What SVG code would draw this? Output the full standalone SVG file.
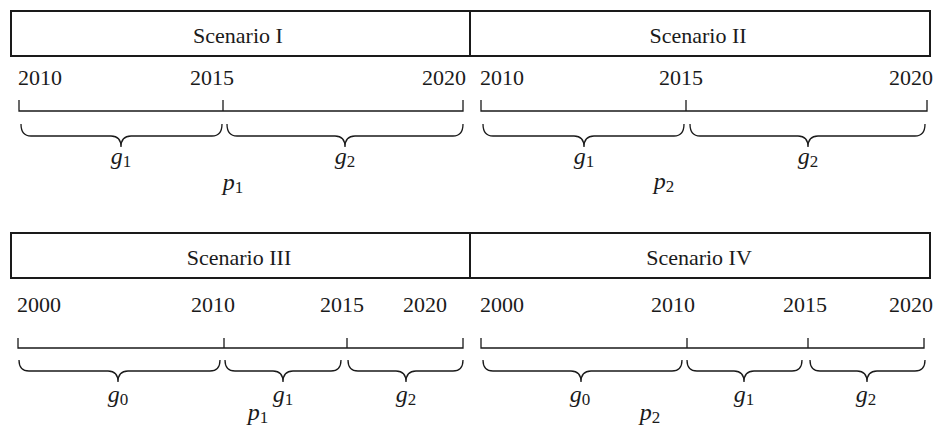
<svg xmlns="http://www.w3.org/2000/svg" width="935" height="430" viewBox="0 0 935 430">
<style>
text{font-family:"Liberation Serif","Times New Roman",serif;fill:#1a1a1a}
.t{font-size:22px;text-anchor:middle}
.y{font-size:22px}
.m{font-size:24px;font-style:italic;text-anchor:middle}
.s{font-size:17px;font-style:normal}
.box{fill:none;stroke:#1a1a1a;stroke-width:2}
.ln{fill:none;stroke:#1a1a1a;stroke-width:1.3}
</style>
<rect width="935" height="430" fill="#fff"/>
<g id="scenario1">
<rect class="box" x="11" y="11" width="459" height="45"/>
<text class="t" x="238" y="43">Scenario I</text>
<text class="y" x="18" y="85">2010</text>
<text class="y" x="190" y="85">2015</text>
<text class="y" x="422" y="85">2020</text>
</g>
<g id="scenario2">
<rect class="box" x="470" y="11" width="460" height="45"/>
<text class="t" x="698" y="43">Scenario II</text>
<text class="y" x="480" y="85">2010</text>
<text class="y" x="659" y="85">2015</text>
<text class="y" x="889" y="85">2020</text>
</g>
<g id="scenario3">
<rect class="box" x="11" y="233" width="459" height="45"/>
<text class="t" x="239" y="265">Scenario III</text>
<text class="y" x="17" y="312">2000</text>
<text class="y" x="191" y="312">2010</text>
<text class="y" x="320" y="312">2015</text>
<text class="y" x="403" y="312">2020</text>
</g>
<g id="scenario4">
<rect class="box" x="470" y="233" width="460" height="45"/>
<text class="t" x="699" y="265">Scenario IV</text>
<text class="y" x="480" y="312">2000</text>
<text class="y" x="651" y="312">2010</text>
<text class="y" x="783" y="312">2015</text>
<text class="y" x="889" y="312">2020</text>
</g>
<g id="connectors">
<path class="ln" d="M19,100V111H463V100M223,111V100"/>
<path class="ln" d="M481,100V111H927V100M686,111V100"/>
<path class="ln" d="M18,338V348H463V338M224,348V338M347,348V338"/>
<path class="ln" d="M481,338V348H924V338M687,348V338M808,348V338"/>
<path class="ln" d="M21,124Q21,136 31,136H111Q121,136 121,147Q121,136 131,136H212Q222,136 222,124"/>
<path class="ln" d="M227,124Q227,136 237,136H335Q345,136 345,147Q345,136 355,136H453Q463,136 463,124"/>
<path class="ln" d="M483,124Q483,136 493,136H574Q584,136 584,147Q584,136 594,136H674Q684,136 684,124"/>
<path class="ln" d="M690,124Q690,136 700,136H798Q808,136 808,147Q808,136 818,136H915Q925,136 925,124"/>
<path class="ln" d="M19,360Q19,371 29,371H108Q118,371 118,382Q118,371 128,371H210Q220,371 220,360"/>
<path class="ln" d="M225,360Q225,371 235,371H273Q283,371 283,382Q283,371 293,371H331Q341,371 341,360"/>
<path class="ln" d="M348,360Q348,371 358,371H396Q406,371 406,382Q406,371 416,371H453Q463,371 463,360"/>
<path class="ln" d="M483,360Q483,371 493,371H571Q581,371 581,382Q581,371 591,371H672Q682,371 682,360"/>
<path class="ln" d="M687,360Q687,371 697,371H734Q744,371 744,382Q744,371 754,371H792Q802,371 802,360"/>
<path class="ln" d="M810,360Q810,371 820,371H857Q867,371 867,382Q867,371 877,371H915Q925,371 925,360"/>
</g>
<g id="labels">
<text class="m" x="121" y="164">g<tspan class="s" dy="3">1</tspan></text>
<text class="m" x="345" y="164">g<tspan class="s" dy="3">2</tspan></text>
<text class="m" x="233" y="190">p<tspan class="s" dy="3">1</tspan></text>
<text class="m" x="584" y="164">g<tspan class="s" dy="3">1</tspan></text>
<text class="m" x="808" y="164">g<tspan class="s" dy="3">2</tspan></text>
<text class="m" x="664" y="189">p<tspan class="s" dy="3">2</tspan></text>
<text class="m" x="118" y="402">g<tspan class="s" dy="3">0</tspan></text>
<text class="m" x="283" y="402">g<tspan class="s" dy="3">1</tspan></text>
<text class="m" x="406" y="402">g<tspan class="s" dy="3">2</tspan></text>
<text class="m" x="580" y="402">g<tspan class="s" dy="3">0</tspan></text>
<text class="m" x="744" y="402">g<tspan class="s" dy="3">1</tspan></text>
<text class="m" x="866" y="402">g<tspan class="s" dy="3">2</tspan></text>
<text class="m" x="258" y="420">p<tspan class="s" dy="3">1</tspan></text>
<text class="m" x="650" y="420">p<tspan class="s" dy="3">2</tspan></text>
</g>
</svg>
